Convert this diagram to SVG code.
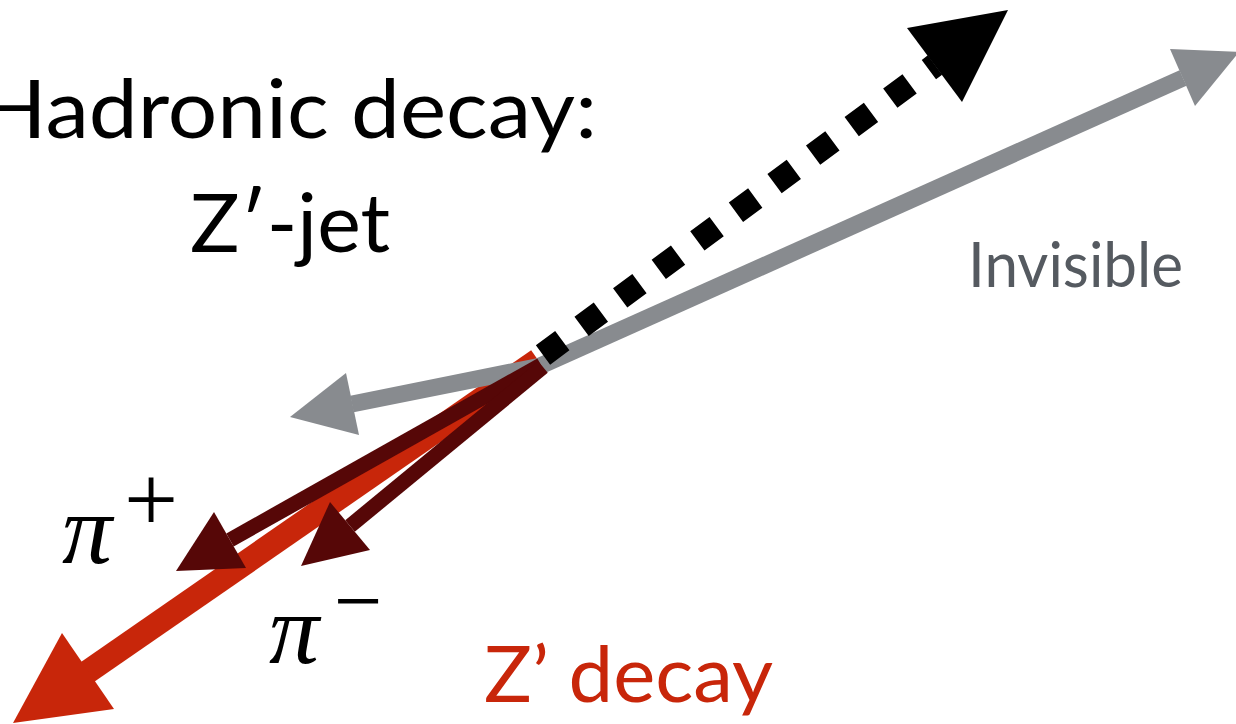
<svg xmlns="http://www.w3.org/2000/svg" width="1236" height="724" viewBox="0 0 1236 724">
<style>
.lbl{font-family:Lato,"Liberation Sans",sans-serif;}
.math{font-family:"Liberation Serif","DejaVu Serif",serif;}
.gray{stroke:#888b8f;fill:none;}
.grayh{fill:#888b8f;}
.red{stroke:#c8260a;fill:none;}
.redh{fill:#c8260a;}
.dred{stroke:#560707;fill:none;}
.dredh{fill:#560707;}
</style>
<rect width="1236" height="724" fill="#ffffff"/>
<g id="connectors">
  <g id="zdecay-arrow">
    <line class="red" x1="538" y1="360" x2="86" y2="673" stroke-width="24"/>
    <polygon class="redh" points="13,723 62,633 114,709"/>
  </g>
  <g id="invisible-arrows">
    <line class="gray" x1="540" y1="366" x2="1183" y2="78" stroke-width="17"/>
    <polygon class="grayh" points="1239,52 1170,49 1195,106"/>
    <line class="gray" x1="541" y1="366" x2="352" y2="404" stroke-width="17"/>
    <polygon class="grayh" points="290,417 346,373 359,435"/>
  </g>
  <g id="pion-arrows">
    <line class="dred" x1="541" y1="365" x2="230" y2="540" stroke-width="15"/>
    <polygon class="dredh" points="176,571 214,512 246,568"/>
    <line class="dred" x1="543" y1="367" x2="350" y2="526" stroke-width="15"/>
    <polygon class="dredh" points="301,566 330,502 370,550"/>
  </g>
  <g id="jet-arrow">
    <line x1="543" y1="355" x2="935" y2="65" stroke="#000" stroke-width="24" stroke-dasharray="24 24"/>
    <polygon fill="#000" points="1008,10 907,28 962,102"/>
  </g>
</g>
<g id="title">
  <text class="lbl" x="-20" y="138" font-size="82" textLength="617" lengthAdjust="spacingAndGlyphs" fill="#000">Hadronic decay:</text>
  <text class="lbl" x="190" y="252" font-size="82" textLength="200" lengthAdjust="spacingAndGlyphs" fill="#000">Z′-jet</text>
</g>
<g id="invisible-label">
  <text class="lbl" x="968" y="287" font-size="62" textLength="215" lengthAdjust="spacingAndGlyphs" fill="#555a60">Invisible</text>
</g>
<g id="zdecay-label">
  <text class="lbl" x="484" y="702" font-size="78" textLength="289" lengthAdjust="spacingAndGlyphs" fill="#c8260a">Z’ decay</text>
</g>
<g id="piplus-label">
  <text class="math" x="62" y="563" font-size="100" font-style="italic" fill="#000">π</text>
  <text class="math" x="124" y="531" font-size="96" fill="#000">+</text>
</g>
<g id="piminus-label">
  <text class="math" x="269" y="663" font-size="100" font-style="italic" fill="#000">π</text>
  <text class="math" x="334" y="630" font-size="86" fill="#000">−</text>
</g>
</svg>
